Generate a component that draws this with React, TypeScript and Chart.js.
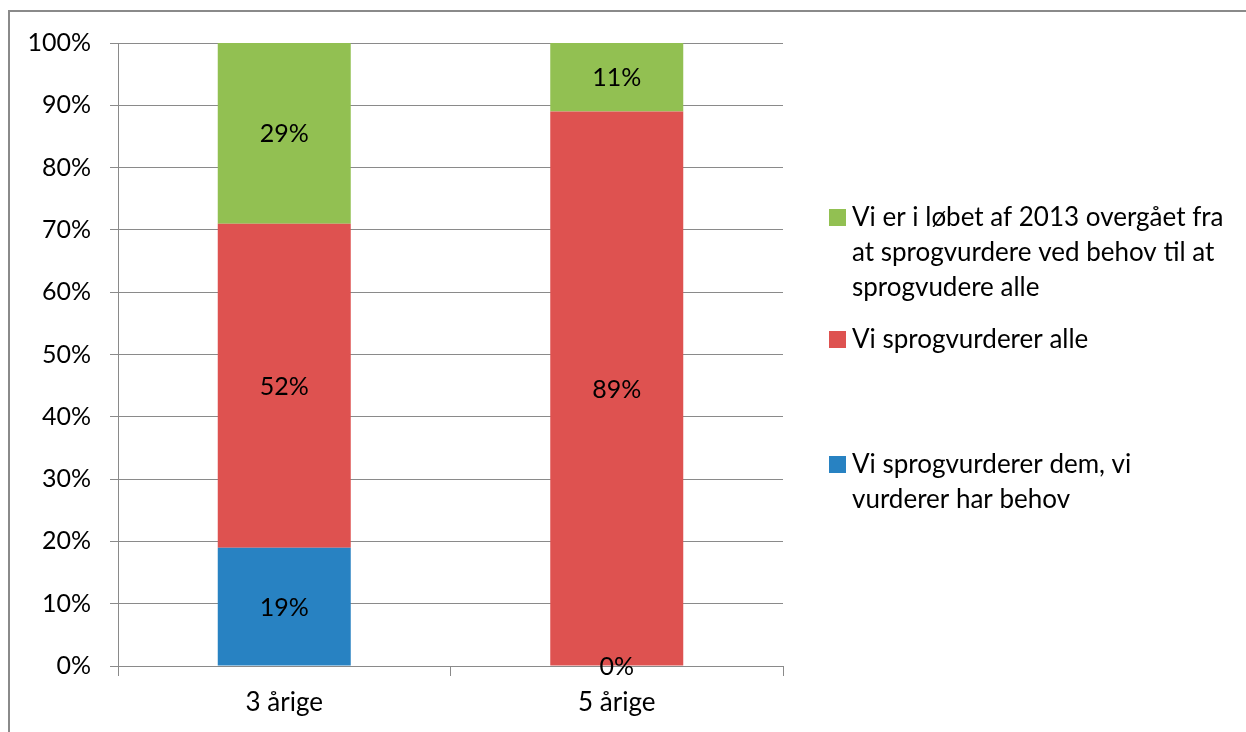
import React, { useEffect, useRef } from "react";
import { Chart, registerables } from "chart.js";

Chart.register(...registerables);

const categories = ["3 årige", "5 årige"];
const seriesNames = [
  "Vi sprogvurderer dem, vi vurderer har behov",
  "Vi sprogvurderer alle",
  "Vi er i løbet af 2013 overgået fra at sprogvurdere ved behov til at sprogvudere alle",
];
const blueValues = [19, 0];
const redValues = [52, 89];
const greenValues = [29, 11];
const yTickStep = 10;
const yMax = 100;

const legendGreenLines = ["Vi er i løbet af 2013 overgået fra", "at sprogvurdere ved behov til at", "sprogvudere alle"];
const legendRedLines = ["Vi sprogvurderer alle"];
const legendBlueLines = ["Vi sprogvurderer dem, vi", "vurderer har behov"];

const BLUE = "rgb(40,130,194)";
const RED = "rgb(222,82,80)";
const GREEN = "rgb(146,192,82)";
const GRID = "#8a8a8a";
const FONT_FAMILY = "Lato, 'Open Sans', sans-serif";
const FONT_SIZE = 26;
const TICK_FONT_SIZE = 25;

const framePlugin = {
  id: "frame",
  beforeDraw(chart: any) {
    const ctx = chart.ctx;
    ctx.save();
    ctx.fillStyle = "#ffffff";
    ctx.fillRect(0, 0, chart.width, chart.height);
    ctx.strokeStyle = GRID;
    ctx.lineWidth = 2;
    ctx.beginPath();
    ctx.moveTo(9, chart.height);
    ctx.lineTo(9, 11);
    ctx.lineTo(chart.width, 11);
    ctx.stroke();
    ctx.restore();
  },
};

const dataLabelPlugin = {
  id: "dataLabels",
  afterDatasetsDraw(chart: any) {
    const ctx = chart.ctx;
    ctx.save();
    ctx.font = `${TICK_FONT_SIZE}px ${FONT_FAMILY}`;
    ctx.fillStyle = "#000";
    ctx.textAlign = "center";
    ctx.textBaseline = "middle";
    chart.data.datasets.forEach((ds: any, i: number) => {
      const meta = chart.getDatasetMeta(i);
      meta.data.forEach((el: any, j: number) => {
        const v = ds.data[j];
        const y = (el.y + el.base) / 2;
        ctx.fillText(`${v}%`, el.x, y + 1);
      });
    });
    ctx.restore();
  },
};

const legendPlugin = {
  id: "sideLegend",
  afterDraw(chart: any) {
    const ctx = chart.ctx;
    const items = [
      { color: GREEN, lines: legendGreenLines, y: 218 },
      { color: RED, lines: legendRedLines, y: 340 },
      { color: BLUE, lines: legendBlueLines, y: 465 },
    ];
    ctx.save();
    ctx.font = `${FONT_SIZE}px ${FONT_FAMILY}`;
    ctx.fillStyle = "#000";
    ctx.textAlign = "left";
    ctx.textBaseline = "middle";
    items.forEach((it) => {
      ctx.fillStyle = it.color;
      ctx.fillRect(829, it.y - 9, 17, 17);
      ctx.fillStyle = "#000";
      it.lines.forEach((line, k) => {
        ctx.fillText(line, 852, it.y + k * 35);
      });
    });
    ctx.restore();
  },
};

export default function App() {
  const canvasRef = useRef<HTMLCanvasElement | null>(null);

  useEffect(() => {
    document.body.style.margin = "0";
    const canvas = canvasRef.current;
    if (!canvas) return;
    const tickFont = { family: FONT_FAMILY, size: TICK_FONT_SIZE };
    const catFont = { family: FONT_FAMILY, size: FONT_SIZE };
    const chart = new Chart(canvas, {
      type: "bar",
      data: {
        labels: categories,
        datasets: [
          { label: seriesNames[0], data: blueValues, backgroundColor: BLUE, barPercentage: 0.4, categoryPercentage: 1 },
          { label: seriesNames[1], data: redValues, backgroundColor: RED, barPercentage: 0.4, categoryPercentage: 1 },
          { label: seriesNames[2], data: greenValues, backgroundColor: GREEN, barPercentage: 0.4, categoryPercentage: 1 },
        ],
      },
      options: {
        responsive: false,
        animation: false,
        devicePixelRatio: 1,
        layout: { padding: { left: 0, top: 43, right: 463, bottom: 0 } },
        plugins: {
          legend: { display: false },
          tooltip: { enabled: false },
        },
        scales: {
          x: {
            stacked: true,
            grid: {
              display: true,
              drawOnChartArea: false,
              drawTicks: true,
              tickLength: 10,
              color: GRID,
              offset: true,
            },
            border: { display: true, color: GRID, width: 1 },
            ticks: { font: catFont, color: "#000", padding: 11 },
            afterFit: (s: any) => {
              s.height = 66;
            },
          },
          y: {
            stacked: true,
            min: 0,
            max: yMax,
            ticks: {
              stepSize: yTickStep,
              font: tickFont,
              color: "#000",
              padding: 19,
              callback: (v: any) => `${v}%`,
            },
            grid: { color: GRID, tickLength: 8, drawTicks: true },
            border: { display: true, color: GRID, width: 1 },
            afterFit: (s: any) => {
              s.width = 118;
            },
          },
        },
      },
      plugins: [framePlugin, dataLabelPlugin, legendPlugin],
    });
    return () => chart.destroy();
  }, []);

  return (
    <div style={{ width: 1246, height: 732, position: "relative", background: "#fff" }}>
      <canvas ref={canvasRef} width={1246} height={732} style={{ display: "block" }} />
    </div>
  );
}
